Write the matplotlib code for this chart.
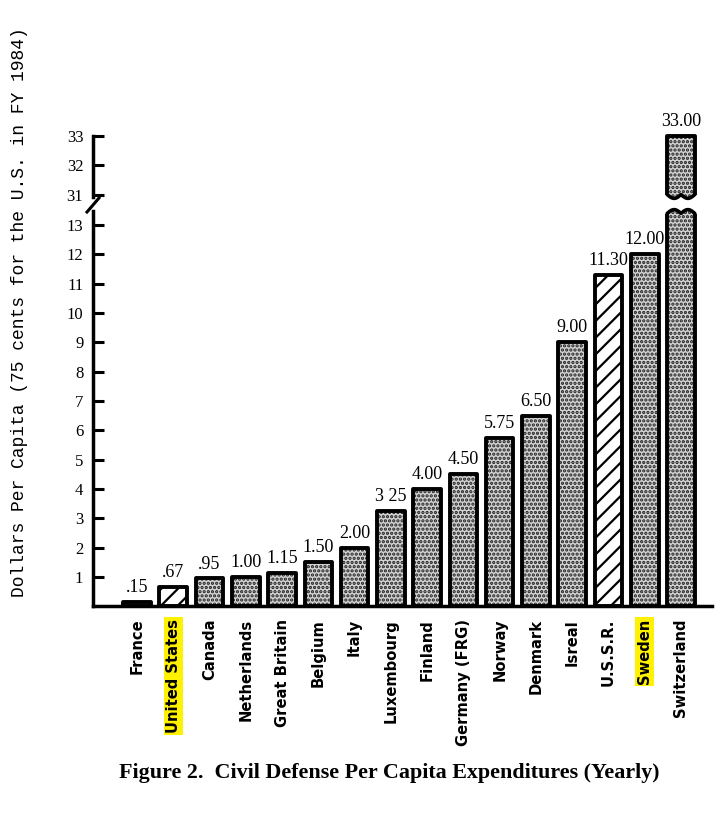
import numpy as np
import matplotlib
matplotlib.use("Agg")
import matplotlib.pyplot as plt
from matplotlib.lines import Line2D

# ---------------- data ----------------
countries = ["France", "United States", "Canada", "Netherlands", "Great Britain",
             "Belgium", "Italy", "Luxembourg", "Finland", "Germany (FRG)", "Norway",
             "Denmark", "Isreal", "U.S.S.R.", "Sweden", "Switzerland"]
values = [0.15, 0.67, 0.95, 1.00, 1.15, 1.50, 2.00, 3.25, 4.00, 4.50, 5.75,
          6.50, 9.00, 11.30, 12.00, 33.00]
value_labels = [".15", ".67", ".95", "1.00", "1.15", "1.50", "2.00", "3 25", "4.00",
                "4.50", "5.75", "6.50", "9.00", "11.30", "12.00", "33.00"]
hatched = ["United States", "U.S.S.R."]
highlighted = ["United States", "Sweden"]
low_ticks = list(range(1, 14))
high_ticks = [31, 32, 33]
ylabel = "Dollars Per Capita (75 cents for the U.S. in FY 1984)"
title = "Figure 2.  Civil Defense Per Capita Expenditures (Yearly)"

# ---------------- style ----------------
plt.rcParams["font.family"] = ["Liberation Serif", "DejaVu Serif"]
plt.rcParams["hatch.linewidth"] = 1.6

W, H = 720, 813
fig = plt.figure(figsize=(W / 100, H / 100), dpi=100)

def fx(px):
    return px / W

def fy(py):
    return 1 - py / H

ppu_lo = 29.33
y0_lo = 606.3
lo_top_px = 207
hi_bot_px = 201
hi_top_px = 128
ppu_hi = 29.5

ax_lo = fig.add_axes([fx(93), fy(y0_lo), fx(712) - fx(93), (y0_lo - lo_top_px) / H])
ax_hi = fig.add_axes([fx(93), fy(hi_bot_px), fx(712) - fx(93), (hi_bot_px - hi_top_px) / H])

lo_ylim = (0, (y0_lo - lo_top_px) / ppu_lo)
hi_ylim = (31 - (hi_bot_px - 195) / ppu_hi, 33 + (136 - hi_top_px) / ppu_hi)
xlim = (-1.213, 15.855)

ax_lo.set_ylim(*lo_ylim)
ax_hi.set_ylim(*hi_ylim)
for ax in (ax_lo, ax_hi):
    ax.set_xlim(*xlim)
    ax.patch.set_alpha(0)
    ax.spines["top"].set_visible(False)
    ax.spines["right"].set_visible(False)
    ax.spines["left"].set_linewidth(2.5)
    ax.tick_params(axis="y", direction="in", length=8, width=2.2, labelsize=12, pad=7)

ax_hi.spines["bottom"].set_visible(False)
ax_hi.tick_params(axis="x", bottom=False, labelbottom=False)
ax_lo.spines["bottom"].set_linewidth(2.5)
ax_lo.spines["left"].set_bounds(0, lo_ylim[1] - 0.15)
ax_hi.spines["left"].set_bounds(hi_ylim[0] + 0.12, 33)

ax_lo.set_yticks(low_ticks)
ax_hi.set_yticks(high_ticks)

width = 0.76
x = np.arange(len(countries))

for ax in (ax_lo, ax_hi):
    for i, (c, v) in enumerate(zip(countries, values)):
        if c in hatched:
            ax.bar(i, v, width=width, color="white", edgecolor="black", hatch="//",
                   linewidth=0, zorder=2)
        else:
            ax.bar(i, v, width=width, color="#d2d2d2", edgecolor="#202020", hatch="....",
                   linewidth=0, zorder=2)
        ax.bar(i, v, width=width, fill=False, edgecolor="black", linewidth=2.8,
               joinstyle="round", zorder=3)

# value labels
for i, (v, lab) in enumerate(zip(values, value_labels)):
    ax = ax_lo if v < lo_ylim[1] else ax_hi
    ax.text(i, v + 0.2, lab, ha="center", va="bottom", fontsize=13, zorder=4)

# wavy break on the tall bar
def wavy_cut(ax, xc, edge_y, amp, direction):
    x0, x1 = xc - width / 2, xc + width / 2
    xs = np.linspace(x0, x1, 60)
    t = (xs - x0) / (x1 - x0)
    base = edge_y - direction * 0.22
    ys = base + direction * amp * np.abs(np.sin(2 * np.pi * t))
    xs_f = np.concatenate([[x0 - 0.08], xs, [x1 + 0.08]])
    ys_f = np.concatenate([[ys[0]], ys, [ys[-1]]])
    far = edge_y + direction * 1.0
    ax.fill_between(xs_f, ys_f, far, color="white", zorder=5, linewidth=0)
    ax.plot(xs, ys, color="black", linewidth=2.6, zorder=6, solid_capstyle="round")

for i, v in enumerate(values):
    if v > lo_ylim[1]:
        wavy_cut(ax_lo, i, lo_ylim[1], 0.13, +1)
        wavy_cut(ax_hi, i, hi_ylim[0], 0.13, -1)

# x tick labels
ax_lo.set_xticks(x)
ax_lo.set_xticklabels(countries, rotation=90, fontfamily="DejaVu Sans",
                      fontweight="bold", fontsize=10.6)
ax_lo.tick_params(axis="x", length=0, pad=9)
for lbl in ax_lo.get_xticklabels():
    if lbl.get_text() in highlighted:
        lbl.set_bbox(dict(facecolor="#fff200", edgecolor="none", pad=1.5))

# axis break mark on the left spine
fig.add_artist(Line2D([fx(87), fx(99)], [fy(212), fy(198)], color="black",
                      linewidth=2.2, transform=fig.transFigure))

# y label and caption
fig.text(fx(20), fy(312), ylabel, rotation=90, ha="center", va="center",
         fontfamily=["Liberation Mono", "DejaVu Sans Mono"], fontsize=13)
fig.text(fx(389), fy(773), title, ha="center", va="center", fontweight="bold",
         fontsize=15.8)

fig.savefig("out.png", dpi=100)
